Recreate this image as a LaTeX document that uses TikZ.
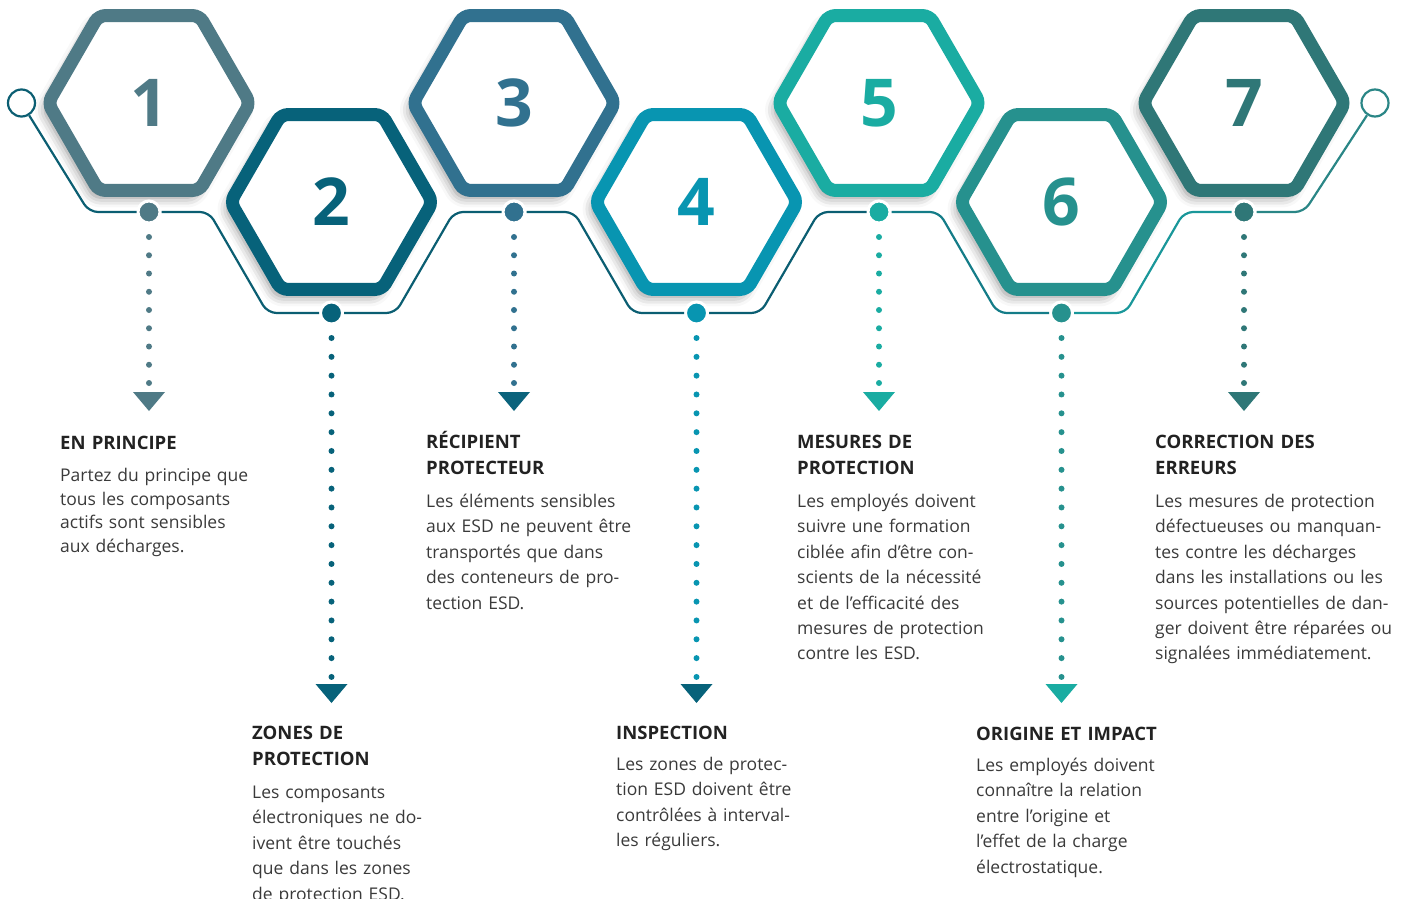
\documentclass[tikz,border=0pt]{standalone}
\usepackage{fontspec}
\setmainfont{Open Sans}
\usetikzlibrary{shapes.geometric,shadows.blur}

\definecolor{hexone}{HTML}{4F7A86}
\definecolor{hextwo}{HTML}{07627A}
\definecolor{hexthree}{HTML}{31718F}
\definecolor{hexfour}{HTML}{0895B1}
\definecolor{hexfive}{HTML}{1AACA2}
\definecolor{hexsix}{HTML}{26918E}
\definecolor{hexseven}{HTML}{2F7777}
\definecolor{linedark}{HTML}{0B5E72}
\definecolor{linemid}{HTML}{147C88}
\definecolor{linelight}{HTML}{1A979A}
\definecolor{lineend}{HTML}{2A8686}
\definecolor{titlegray}{HTML}{222222}
\definecolor{bodygray}{HTML}{3A3A3A}

\tikzset{
  hexnode/.style={regular polygon, regular polygon sides=6, minimum size=202pt,
    inner sep=0pt, line width=13pt, rounded corners=7pt, fill=white,
    draw=#1, text=#1, font=\fontsize{66}{66}\selectfont\bfseries,
    blur shadow={shadow xshift=-5pt, shadow yshift=-7pt, shadow blur radius=10pt, shadow opacity=45}},
  linedot/.style={circle, minimum size=22pt, inner sep=0pt, fill=#1, draw=white, line width=3pt},
  endring/.style={circle, minimum size=27pt, inner sep=0pt, fill=white, draw=#1, line width=2.2pt},
  zigzag/.style={line width=2.2pt, rounded corners=9pt, draw=#1},
  dotline/.style={line width=6pt, line cap=round, dash pattern=on 0pt off #1},
  headtitle/.style={anchor=base west, inner sep=0pt, text width=280pt, align=left,
    text=titlegray, font=\fontsize{18.5}{26}\selectfont\bfseries},
  bodytext/.style={anchor=base west, inner sep=0pt, text width=280pt, align=left,
    text=bodygray, font=\fontsize{17.5}{25.4}\selectfont},
}

\begin{document}
\begin{tikzpicture}[x=1pt, y=-1pt]
\useasboundingbox (0,0) rectangle (1411,899);

% hexagons
\node[hexnode=hexone]   (h1) at (149,103)   {1};
\node[hexnode=hextwo]   (h2) at (331.5,202) {2};
\node[hexnode=hexthree] (h3) at (514,103)   {3};
\node[hexnode=hexfour]  (h4) at (696.5,202) {4};
\node[hexnode=hexfive]  (h5) at (879,103)   {5};
\node[hexnode=hexsix]   (h6) at (1061.5,202) {6};
\node[hexnode=hexseven] (h7) at (1244,103)  {7};

% ends and dots of the line
\node[endring=linedark] (lc) at (21.5,103) {};
\node[endring=lineend]  (rc) at (1375,103) {};
\node[linedot=hexone]   (d1) at (149,212) {};
\node[linedot=hextwo]   (d2) at (331.5,313) {};
\node[linedot=hexthree] (d3) at (514,212) {};
\node[linedot=hexfour]  (d4) at (696.5,313) {};
\node[linedot=hexfive]  (d5) at (879,212) {};
\node[linedot=hexsix]   (d6) at (1061.5,313) {};
\node[linedot=hexseven] (d7) at (1244,212) {};

% the line under the hexagons
\draw[zigzag=linedark] (lc) -- (89,212) -- (d1);
\draw[zigzag=linedark] (d1) -- (209,212) -- (267.5,313) -- (d2);
\draw[zigzag=linedark] (d2) -- (395.5,313) -- (454,212) -- (d3);
\draw[zigzag=linedark] (d3) -- (574,212) -- (632.5,313) -- (d4);
\draw[zigzag=linedark] (d4) -- (760.5,313) -- (819,212) -- (d5);
\draw[zigzag=linemid] (d5) -- (939,212) -- (997.5,313) -- (d6);
\draw[zigzag=linelight] (d6) -- (1125.5,313) -- (1184,212) -- (d7);
\draw[zigzag=lineend] (d7) -- (1304,212) -- (rc);

% arrow heads
\coordinate (a1) at (149,392);
\coordinate (a2) at (331.5,684);
\coordinate (a3) at (514,392);
\coordinate (a4) at (696.5,684);
\coordinate (a5) at (879,392);
\coordinate (a6) at (1061.5,684);
\coordinate (a7) at (1244,392);

% dotted drops
\draw[dotline=18.25pt, hexone]   ([yshift=-25pt]d1.center) -- ([yshift=8pt]a1);
\draw[dotline=18.83pt, hextwo]   ([yshift=-25pt]d2.center) -- ([yshift=6.5pt]a2);
\draw[dotline=18.25pt, hexthree] ([yshift=-25pt]d3.center) -- ([yshift=8pt]a3);
\draw[dotline=18.83pt, hexfour]  ([yshift=-25pt]d4.center) -- ([yshift=6.5pt]a4);
\draw[dotline=18.25pt, hexfive]  ([yshift=-25pt]d5.center) -- ([yshift=8pt]a5);
\draw[dotline=18.83pt, hexsix]   ([yshift=-25pt]d6.center) -- ([yshift=6.5pt]a6);
\draw[dotline=18.25pt, hexseven] ([yshift=-25pt]d7.center) -- ([yshift=8pt]a7);

\fill[hexone]   (a1) ++(-16,0) -- ++(32,0) -- ++(-16,19) -- cycle;
\fill[hextwo]   (a2) ++(-16,0) -- ++(32,0) -- ++(-16,19) -- cycle;
\fill[hextwo!90!hexthree] (a3) ++(-16,0) -- ++(32,0) -- ++(-16,19) -- cycle;
\fill[hextwo]   (a4) ++(-16,0) -- ++(32,0) -- ++(-16,19) -- cycle;
\fill[hexfive]  (a5) ++(-16,0) -- ++(32,0) -- ++(-16,19) -- cycle;
\fill[hexfive]  (a6) ++(-16,0) -- ++(32,0) -- ++(-16,19) -- cycle;
\fill[hexseven] (a7) ++(-16,0) -- ++(32,0) -- ++(-16,19) -- cycle;

% texts
\node[headtitle] (t1) at (60,449) {EN PRINCIPE};
\node[bodytext, font=\fontsize{17.5}{23.5}\selectfont] (b1) at (60,481.5)
  {Partez du principe que\\tous les composants\\actifs sont sensibles\\aux décharges.};

\node[headtitle] (t2) at (252,739.5) {ZONES DE\\PROTECTION};
\node[bodytext] (b2) at (252,798.5)
  {Les composants\\électroniques ne do-\\ivent être touchés\\que dans les zones\\de protection ESD.};

\node[headtitle] (t3) at (426,448.5) {RÉCIPIENT\\PROTECTEUR};
\node[bodytext] (b3) at (426,507.5)
  {Les éléments sensibles\\aux ESD ne peuvent être\\transportés que dans\\des conteneurs de pro-\\tection ESD.};

\node[headtitle] (t4) at (616,739.5) {INSPECTION};
\node[bodytext] (b4) at (616,770.5)
  {Les zones de protec-\\tion ESD doivent être\\contrôlées à interval-\\les réguliers.};

\node[headtitle] (t5) at (797,448.5) {MESURES DE\\PROTECTION};
\node[bodytext] (b5) at (797,507.5)
  {Les employés doivent\\suivre une formation\\ciblée afin d’être con-\\scients de la nécessité\\et de l’efficacité des\\mesures de protection\\contre les ESD.};

\node[headtitle] (t6) at (976,740) {ORIGINE ET IMPACT};
\node[bodytext] (b6) at (976,771.5)
  {Les employés doivent\\connaître la relation\\entre l’origine et\\l’effet de la charge\\électrostatique.};

\node[headtitle] (t7) at (1155,448.5) {CORRECTION DES\\ERREURS};
\node[bodytext] (b7) at (1155,507.5)
  {Les mesures de protection\\défectueuses ou manquan-\\tes contre les décharges\\dans les installations ou les\\sources potentielles de dan-\\ger doivent être réparées ou\\signalées immédiatement.};
\end{tikzpicture}
\end{document}
